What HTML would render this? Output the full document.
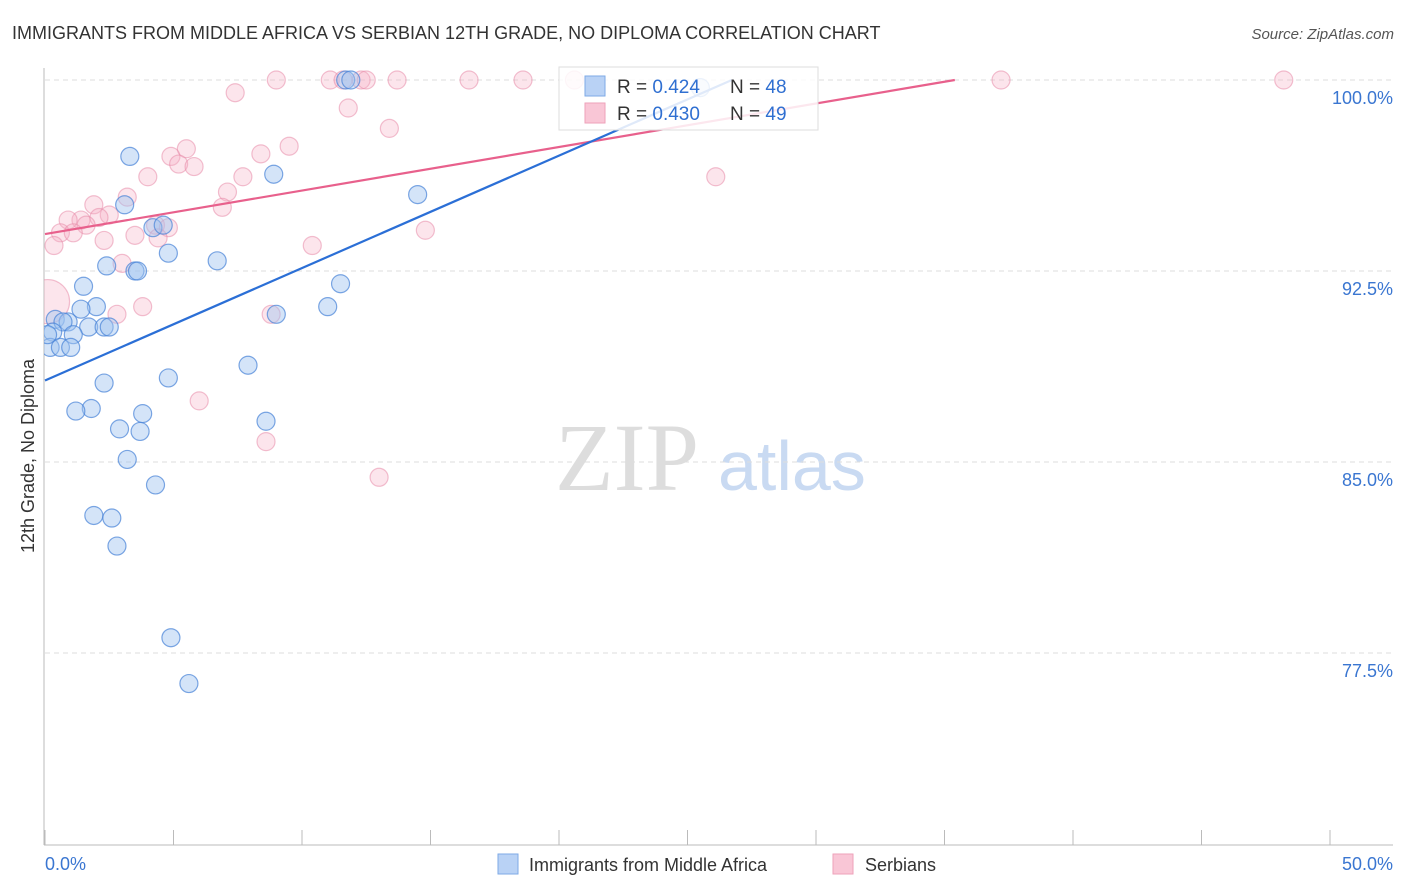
<!DOCTYPE html>
<html><head><meta charset="utf-8"><style>
body{margin:0;background:#fff;font-family:"Liberation Sans",sans-serif;}
svg{display:block}
</style></head><body>
<svg id="chart" width="1406" height="892" xmlns="http://www.w3.org/2000/svg">
<defs><clipPath id="plotclip"><rect x="44" y="60" width="1360" height="785"/></clipPath></defs>
<text x="12" y="39" font-size="18" fill="#333">IMMIGRANTS FROM MIDDLE AFRICA VS SERBIAN 12TH GRADE, NO DIPLOMA CORRELATION CHART</text>
<text x="1394" y="39" font-size="15" fill="#555" text-anchor="end" font-style="italic">Source: ZipAtlas.com</text>
<text x="555" y="490" font-size="96" fill="#ddd" font-family="Liberation Serif,serif">ZIP</text>
<text x="718" y="490" font-size="70" fill="#c9daf2">atlas</text>
<text transform="translate(34,456) rotate(-90)" font-size="18" fill="#333" text-anchor="middle">12th Grade, No Diploma</text>
<g id="grid"></g><g id="pts" clip-path="url(#plotclip)"></g><g id="lines"></g>
<g>
<rect x="559" y="67" width="259" height="63" fill="#fff" fill-opacity="0.85" stroke="#ddd"/>
<rect x="585" y="76" width="20" height="20" fill="#b9d2f5" stroke="#7eaae6"/>
<rect x="585" y="103" width="20" height="20" fill="#f9c6d6" stroke="#eea2ba"/>
<text x="617" y="93" font-size="19" fill="#333">R = <tspan fill="#2f6fd1">0.424</tspan></text>
<text x="730" y="93" font-size="19" fill="#333">N = <tspan fill="#2f6fd1">48</tspan></text>
<text x="617" y="120" font-size="19" fill="#333">R = <tspan fill="#2f6fd1">0.430</tspan></text>
<text x="730" y="120" font-size="19" fill="#333">N = <tspan fill="#2f6fd1">49</tspan></text>
</g>
<g>
<rect x="498" y="854" width="20" height="20" fill="#b9d2f5" stroke="#7eaae6"/>
<text x="529" y="871" font-size="18" fill="#333">Immigrants from Middle Africa</text>
<rect x="833" y="854" width="20" height="20" fill="#f9c6d6" stroke="#eea2ba"/>
<text x="865" y="871" font-size="18" fill="#333">Serbians</text>
</g>
</svg>
<script>
const xTicks=[0,5,10,15,20,25,30,35,40,45,50];
const yTicks=[100,92.5,85,77.5];
const yTickLabels=["100.0%","92.5%","85.0%","77.5%"];
const blueX=[3.3,8.9,14.5,3.1,4.2,4.6,4.8,6.7,2.4,3.5,3.6,1.5,11.5,11.0,2.0,1.4,9.0,0.4,0.9,0.7,1.7,2.3,2.5,1.1,0.3,0.2,0.6,1.0,7.9,4.8,2.3,1.8,1.2,3.8,8.6,2.9,3.7,3.2,4.3,1.9,2.6,2.8,4.9,5.6,11.7,11.9,25.5,0.1];
const blueY=[97.0,96.3,95.5,95.1,94.2,94.3,93.2,92.9,92.7,92.5,92.5,91.9,92.0,91.1,91.1,91.0,90.8,90.6,90.5,90.5,90.3,90.3,90.3,90.0,90.1,89.5,89.5,89.5,88.8,88.3,88.1,87.1,87.0,86.9,86.6,86.3,86.2,85.1,84.1,82.9,82.8,81.7,78.1,76.3,100,100,99.7,90.0];
const pinkX=[9.0,11.1,11.6,12.3,12.5,13.7,16.5,18.6,20.6,37.2,48.2,7.4,11.8,13.4,9.5,5.5,8.4,4.9,5.2,5.8,4.0,7.7,26.1,7.1,3.2,1.9,6.9,2.5,2.1,1.4,0.9,1.6,0.6,1.1,4.3,4.8,3.5,4.4,2.3,0.35,14.8,10.4,3.0,3.8,2.8,8.8,6.0,8.6,13.0,0.1];
const pinkY=[100,100,100,100,100,100,100,100,100,100,100,99.5,98.9,98.1,97.4,97.3,97.1,97.0,96.7,96.6,96.2,96.2,96.2,95.6,95.4,95.1,95.0,94.7,94.6,94.5,94.5,94.3,94.0,94.0,94.3,94.2,93.9,93.8,93.7,93.5,94.1,93.5,92.8,91.1,90.8,90.8,87.4,85.8,84.4,91.3];
const pinkR=[9,9,9,9,9,9,9,9,9,9,9,9,9,9,9,9,9,9,9,9,9,9,9,9,9,9,9,9,9,9,9,9,9,9,9,9,9,9,9,9,9,9,9,9,9,9,9,9,9,22];
const blueFit=[88.2,0.4415];
const pinkFit=[93.95,0.1709];
const X0=45,X1=1330,Y0=80,Y1=844;
const sx=v=>X0+(v/50)*(X1-X0);
const sy=v=>Y0+(100-v)/30*(Y1-Y0);
const NS="http://www.w3.org/2000/svg";
function mk(tag,attrs,parent){const e=document.createElementNS(NS,tag);for(const k in attrs)e.setAttribute(k,attrs[k]);parent.appendChild(e);return e;}
const grid=document.getElementById('grid');
yTicks.forEach((t,i)=>{
 const g=mk('line',{x1:X0,x2:1393,y1:sy(t),y2:sy(t),stroke:'#ddd','stroke-dasharray':'5,4'},grid);
 
 
 const tx=mk('text',{x:1393,y:sy(t)+24,'font-size':18,fill:'#3a76d1','text-anchor':'end'},grid);
 tx.textContent=yTickLabels[i];
 
 
});
const ax=mk('line',{x1:44,x2:44,y1:68,y2:845,stroke:'#bbb'},grid);


const bx=mk('line',{x1:44,x2:1393,y1:845,y2:845,stroke:'#bbb'},grid);


xTicks.forEach(t=>{
 const l=mk('line',{x1:sx(t),x2:sx(t),y1:830,y2:845,stroke:'#bbb'},grid);
 
 
});
const xl0=mk('text',{x:45,y:870,'font-size':18,fill:'#3a76d1'},grid);xl0.textContent='0.0%';


const xl1=mk('text',{x:1393,y:870,'font-size':18,fill:'#3a76d1','text-anchor':'end'},grid);xl1.textContent='50.0%';


const pts=document.getElementById('pts');
pinkX.forEach((v,i)=>{
 const c=mk('circle',{cx:sx(v),cy:sy(pinkY[i]),r:pinkR[i],fill:'rgba(246,175,198,0.33)',stroke:'rgba(232,140,170,0.55)','stroke-width':1.2},pts);
 
 
});
blueX.forEach((v,i)=>{
 const c=mk('circle',{cx:sx(v),cy:sy(blueY[i]),r:9,fill:'rgba(160,196,240,0.45)',stroke:'rgba(70,130,215,0.7)','stroke-width':1.2},pts);
 
 
});
const lines=document.getElementById('lines');
function fit(f,color,name){
 const xe=(100-f[0])/f[1];
 const l=mk('line',{x1:sx(0),y1:sy(f[0]),x2:sx(xe),y2:sy(100),stroke:color,'stroke-width':2.2},lines);
 
 
}
fit(pinkFit,'#e8608c','serbians-trend-line');
fit(blueFit,'#2b6fd6','immigrants-trend-line');
</script>
</body></html>
